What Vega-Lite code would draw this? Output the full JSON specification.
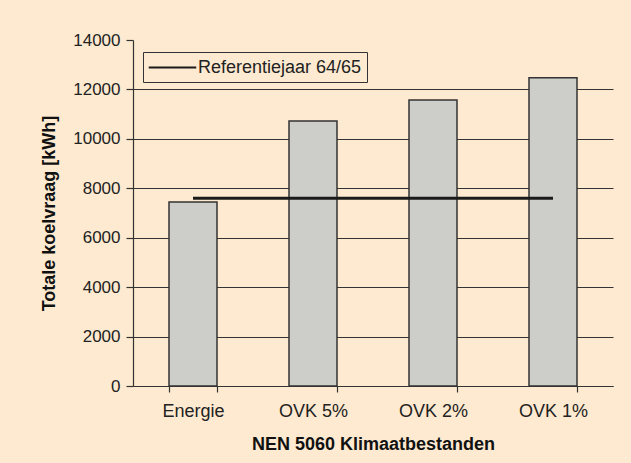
{
  "$schema": "https://vega.github.io/schema/vega-lite/v6.json",
  "width": 480,
  "height": 346,
  "autosize": {"type": "none"},
  "padding": {"left": 133, "top": 40, "right": 18, "bottom": 77},
  "background": "#fdead0",
  "config": {
    "view": {"stroke": null},
    "font": "Liberation Sans",
    "axis": {"labelFont": "Liberation Sans", "titleFont": "Liberation Sans", "labelColor": "#222", "titleColor": "#111", "domainColor": "#333", "tickColor": "#333"}
  },
  "data": {"values": [
    {"k": "Energie", "v": 7450, "ref": 7600},
    {"k": "OVK 5%", "v": 10720, "ref": 7600},
    {"k": "OVK 2%", "v": 11570, "ref": 7600},
    {"k": "OVK 1%", "v": 12470, "ref": 7600}
  ]},
  "encoding": {
    "x": {
      "field": "k", "type": "nominal", "sort": null,
      "scale": {"paddingInner": 0.6, "paddingOuter": 0.3},
      "axis": {
        "title": "NEN 5060 Klimaatbestanden", "titleFontSize": 18, "titleFontWeight": "bold", "titlePadding": 15,
        "labelAngle": 0, "labelFontSize": 18, "labelPadding": 10, "tickBand": "extent", "tickSize": 6,
        "domainWidth": 1.2, "tickWidth": 1.2
      }
    }
  },
  "layer": [
    {
      "mark": {"type": "bar", "fill": "#cdcdc9", "stroke": "#333", "strokeWidth": 1.5},
      "encoding": {
        "y": {
          "field": "v", "type": "quantitative",
          "scale": {"domain": [0, 14000], "nice": false},
          "axis": {
            "title": "Totale koelvraag [kWh]", "titleFontSize": 18, "titleFontWeight": "bold", "titlePadding": 14,
            "values": [0, 2000, 4000, 6000, 8000, 10000, 12000, 14000],
            "format": "d", "labelFontSize": 17, "labelPadding": 6, "tickSize": 7,
            "grid": true, "gridColor": "#333", "gridWidth": 1.2,
            "gridOpacity": {"condition": {"test": "datum.value == 14000", "value": 0}, "value": 1},
            "domainWidth": 1.2, "tickWidth": 1.2
          }
        }
      }
    },
    {
      "mark": {"type": "line", "strokeWidth": 3},
      "encoding": {
        "y": {"field": "ref", "type": "quantitative"},
        "color": {
          "datum": "Referentiejaar 64/65",
          "scale": {"range": ["#1a1a1a"]},
          "legend": {
            "title": null, "orient": "none", "legendX": 10, "legendY": 12,
            "symbolType": "M-2.5,0H2.5", "symbolSize": 361, "symbolStrokeWidth": 2, "symbolOffset": 14,
            "labelOffset": 15, "labelLimit": 400,
            "labelFontSize": 18, "labelFont": "Liberation Sans", "labelColor": "#222",
            "strokeColor": "#333", "fillColor": "#fdead0", "padding": 5
          }
        }
      }
    }
  ]
}
